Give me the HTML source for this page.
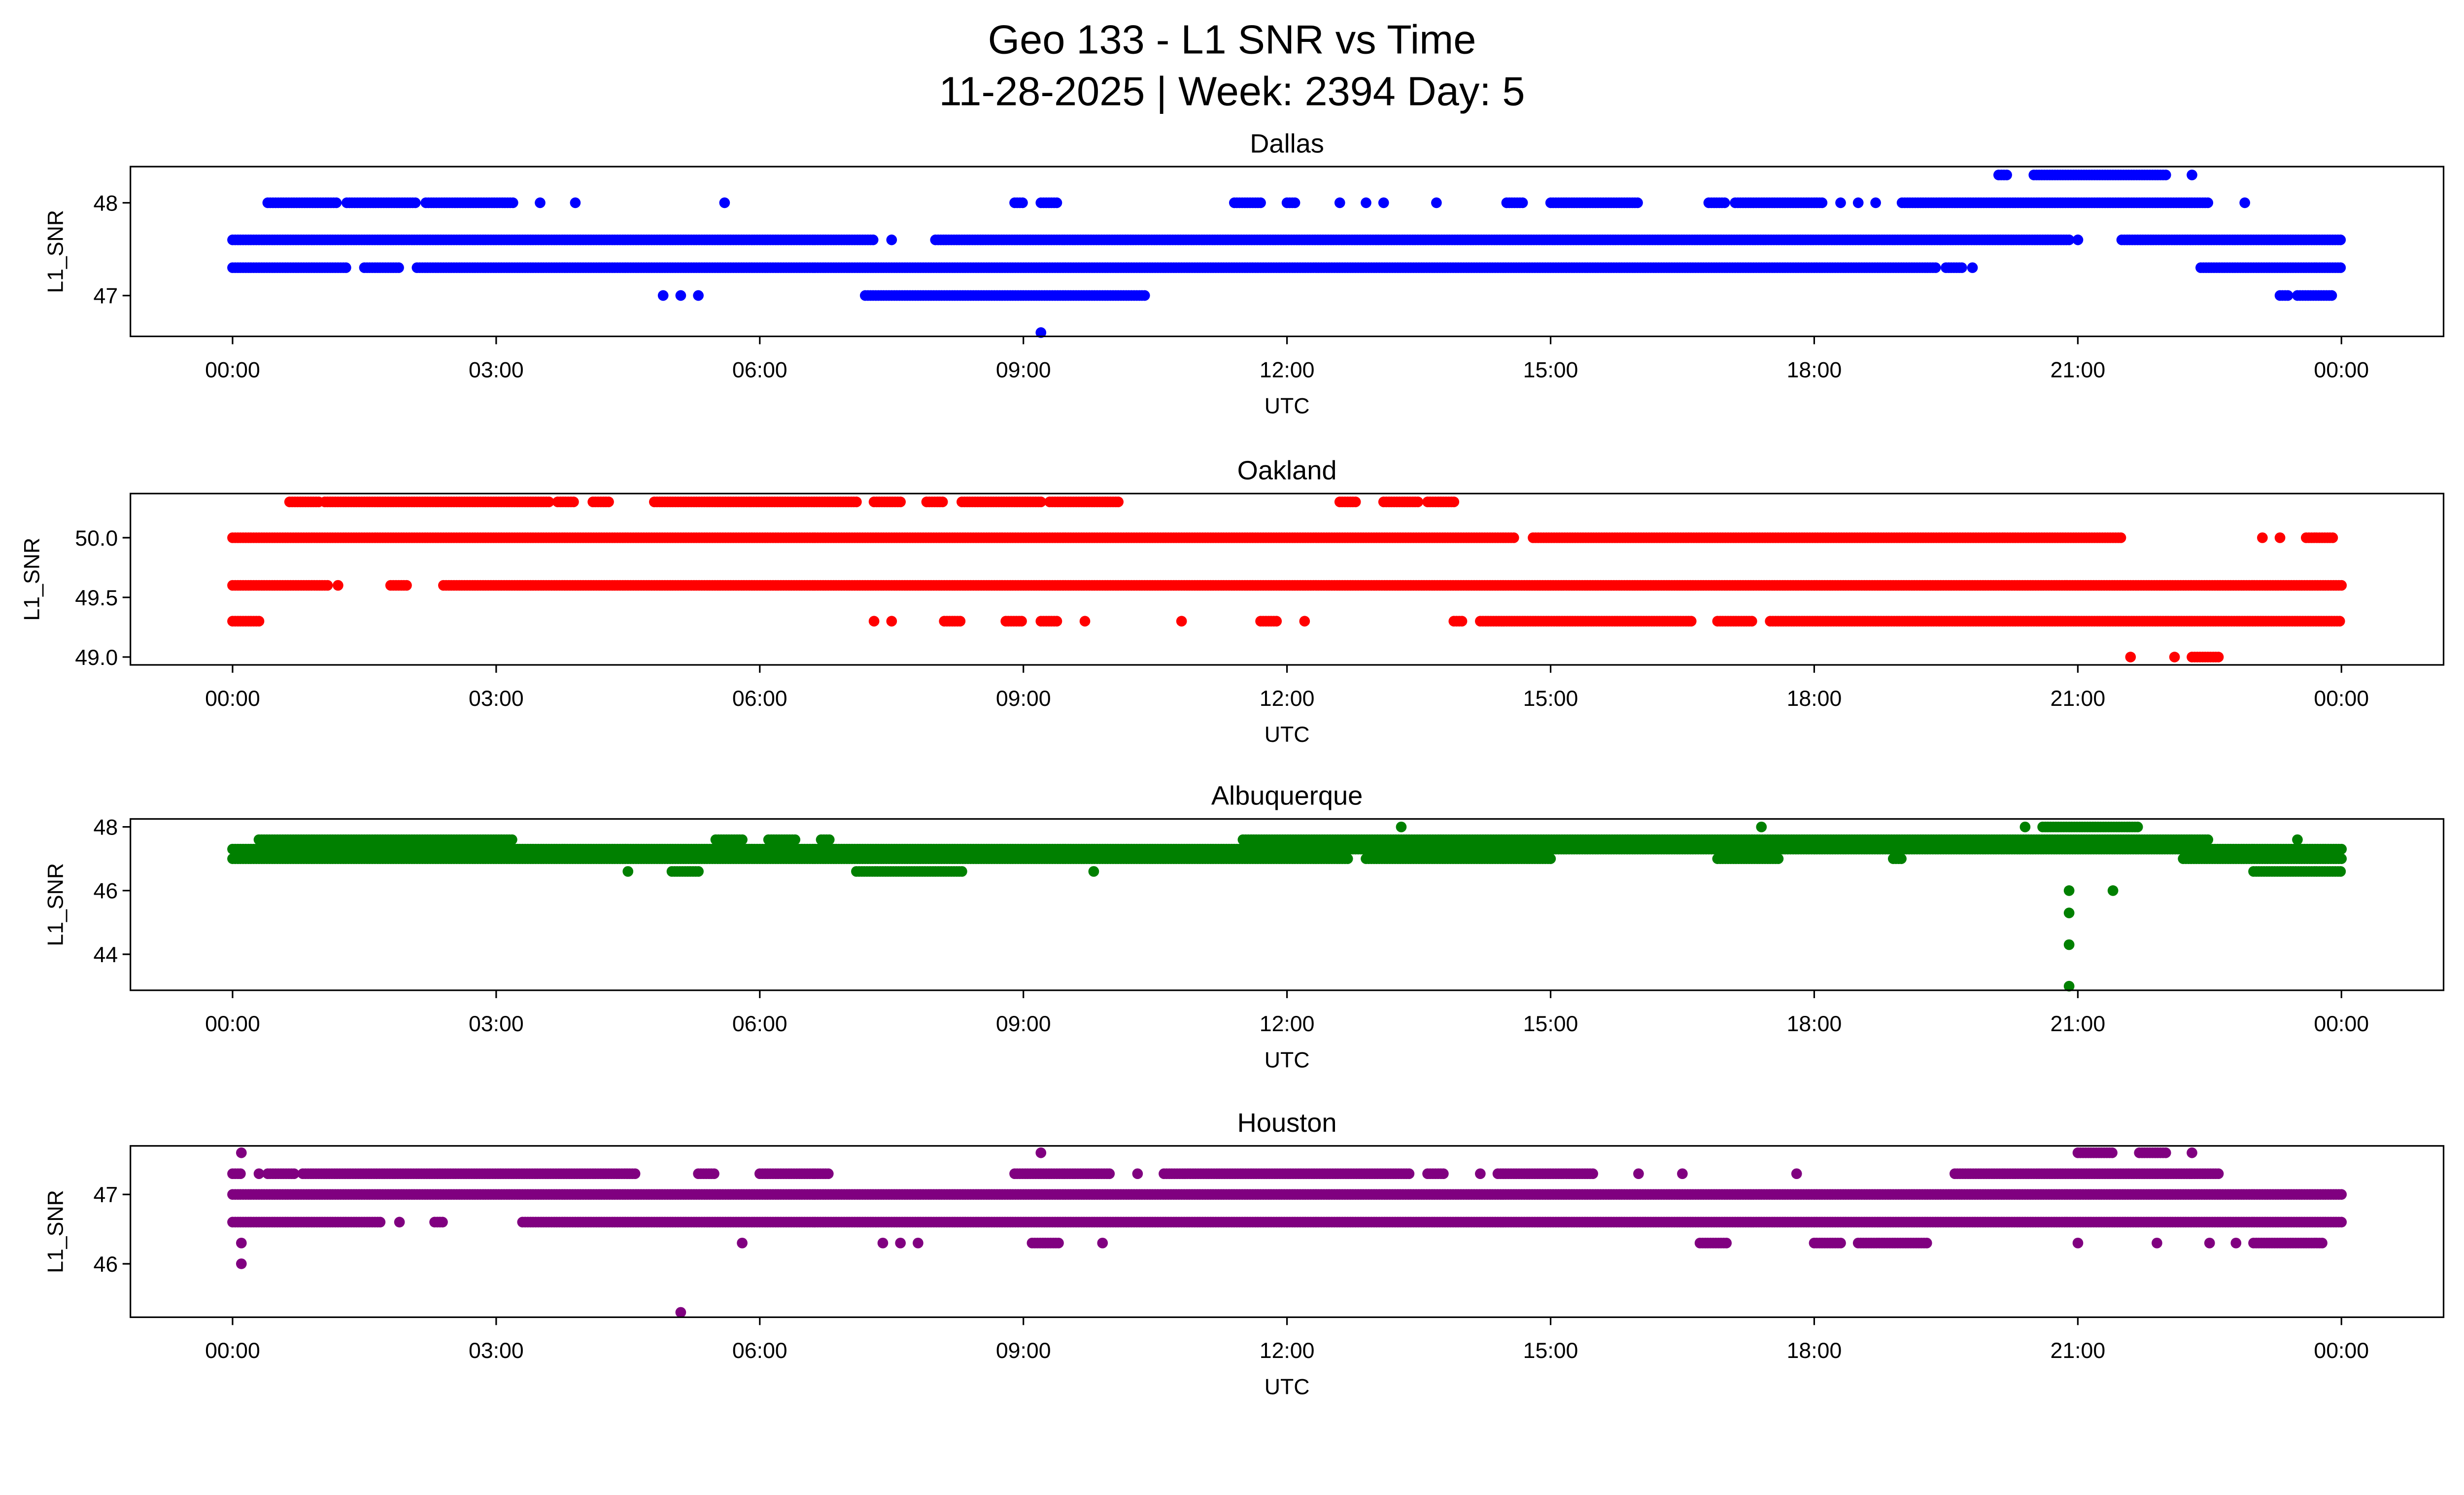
<!DOCTYPE html>
<html><head><meta charset="utf-8"><style>html,body{margin:0;padding:0;background:#fff;overflow:hidden}svg{display:block;position:absolute;left:0;top:0;width:100vw;height:calc(100vw * 0.574649)}text{font-family:"Liberation Sans","DejaVu Sans",sans-serif;fill:#000}</style></head>
<body>
<svg id="chart" xmlns="http://www.w3.org/2000/svg" viewBox="0 0 1568 901" preserveAspectRatio="none">
<rect width="1568" height="901" fill="#fff"/>
<text x="784" y="34" font-size="26" text-anchor="middle">Geo 133 - L1 SNR vs Time</text>
<text x="784" y="67" font-size="26" text-anchor="middle">11-28-2025 | Week: 2394 Day: 5</text>
<g id="plots"></g>
</svg>
<script>
// Runs are [startHour, endHour] for each SNR level
const xTickLabels = ["00:00","03:00","06:00","09:00","12:00","15:00","18:00","21:00","00:00"];
const xTickHours = [0,3,6,9,12,15,18,21,24];
const stations = ["Dallas","Oakland","Albuquerque","Houston"];
const colors = ["#0000ff","#ff0000","#008000","#800080"];
const yTicksDallas = [47,48];
const yTicksOakland = [49.0,49.5,50.0];
const yTicksAlb = [44,46,48];
const yTicksHouston = [46,47];
const dallasLevels = [47.3,47.6,48.0,48.3,47.0,46.6];
const dallasRuns = [
 [[0,1.3],[1.5,1.9],[2.1,19.4],[19.5,19.7],[19.8,19.8],[22.4,24]],
 [[0,7.3],[7.5,7.5],[8.0,20.9],[21.0,21.0],[21.5,24]],
 [[0.4,1.2],[1.3,2.1],[2.2,3.2],[3.5,3.5],[3.9,3.9],[5.6,5.6],[8.9,9.0],[9.2,9.4],[11.4,11.7],[12.0,12.1],[12.6,12.6],[12.9,12.9],[13.1,13.1],[13.7,13.7],[14.5,14.7],[15.0,16.0],[16.8,17.0],[17.1,18.1],[18.3,18.3],[18.5,18.5],[18.7,18.7],[19.0,22.5],[22.9,22.9]],
 [[20.1,20.2],[20.5,22.0],[22.3,22.3]],
 [[4.9,4.9],[5.1,5.1],[5.3,5.3],[7.2,10.4],[23.3,23.4],[23.5,23.9]],
 [[9.2,9.2]]
];
const oakLevels = [50.3,50.0,49.6,49.3,49.0];
const oakRuns = [
 [[0.65,1.0],[1.05,3.6],[3.7,3.9],[4.1,4.3],[4.8,5.9],[5.9,7.1],[7.3,7.6],[7.9,8.1],[8.3,9.2],[9.3,10.1],[12.6,12.8],[13.1,13.5],[13.6,13.9]],
 [[0,14.6],[14.8,21.5],[23.1,23.1],[23.3,23.3],[23.6,23.9]],
 [[0,1.1],[1.2,1.2],[1.8,2.0],[2.4,24]],
 [[0,0.3],[7.3,7.3],[7.5,7.5],[8.1,8.3],[8.8,9.0],[9.2,9.4],[9.7,9.7],[10.8,10.8],[11.7,11.9],[12.2,12.2],[13.9,14.0],[14.2,16.6],[16.9,17.3],[17.5,24]],
 [[21.6,21.6],[22.1,22.1],[22.3,22.6]]
];
const albLevels = [47.3,47.0,47.6,48.0,46.6,46.0,45.3,44.3,43.0];
const albRuns = [
 [[0,24]],
 [[0,12.7],[12.9,15.0],[16.9,17.6],[18.9,19.0],[22.2,24]],
 [[0.3,3.2],[5.5,5.8],[6.1,6.4],[6.7,6.8],[11.5,22.5],[23.5,23.5]],
 [[13.3,13.3],[17.4,17.4],[20.4,20.4],[20.6,21.7]],
 [[4.5,4.5],[5.0,5.3],[7.1,8.3],[9.8,9.8],[23.0,24]],
 [[20.9,20.9],[21.4,21.4]],
 [[20.9,20.9]],
 [[20.9,20.9]],
 [[20.9,20.9]]
];
const houLevels = [47.0,46.6,47.3,47.6,46.3,46.0,45.3];
const houRuns = [
 [[0,24]],
 [[0,1.7],[1.9,1.9],[2.3,2.4],[3.3,24]],
 [[0,0.1],[0.3,0.3],[0.4,0.7],[0.8,4.6],[5.3,5.5],[6.0,6.8],[8.9,10.0],[10.3,10.3],[10.6,13.4],[13.6,13.8],[14.2,14.2],[14.4,15.5],[16.0,16.0],[16.5,16.5],[17.8,17.8],[19.6,22.6]],
 [[0.1,0.1],[9.2,9.2],[21.0,21.4],[21.7,22.0],[22.3,22.3]],
 [[0.1,0.1],[5.8,5.8],[7.4,7.4],[7.6,7.6],[7.8,7.8],[9.1,9.4],[9.9,9.9],[16.7,17.0],[18.0,18.3],[18.5,19.3],[21.0,21.0],[21.9,21.9],[22.5,22.5],[22.8,22.8],[23.0,23.8]],
 [[0.1,0.1]],
 [[5.1,5.1]]
];
const panelLevels = [dallasLevels,oakLevels,albLevels,houLevels];
const panelRuns = [dallasRuns,oakRuns,albRuns,houRuns];
const panelYTicks = [yTicksDallas,yTicksOakland,yTicksAlb,yTicksHouston];
const yDomains = [[46.56,48.39],[48.934,50.37],[42.87,48.25],[45.23,47.70]];

const NS="http://www.w3.org/2000/svg";
const root=document.getElementById('plots');
const boxes=[[106,214],[314,423],[521,630],[729,838]];
const X0=83,X1=1555;
function xScale(h){return 148+(1490-148)*h/24;}
function mk(tag,attrs,parent){const e=document.createElementNS(NS,tag);for(const k in attrs)e.setAttribute(k,attrs[k]);parent.appendChild(e);return e;}
for(let p=0;p<4;p++){
 const [top,bot]=boxes[p];const [d0,d1]=yDomains[p];
 const yScale=v=>bot-(v-d0)/(d1-d0)*(bot-top);
 const g=mk('g',{},root);
 
 
 const t=mk('text',{x:(X0+X1)/2,y:top-9,'font-size':17,'text-anchor':'middle'},g);t.textContent=stations[p];
 
 
 const pts=mk('g',{fill:colors[p]},g);
 
 
 const levels=panelLevels[p],runs=panelRuns[p];
 for(let i=0;i<levels.length;i++){
  const y=yScale(levels[i]);
  for(const r of runs[i]){
   for(let h=r[0];h<=r[1]+1e-9;h+=0.03){
    const c=mk('circle',{cx:xScale(h).toFixed(1),cy:y.toFixed(1),r:3.4},pts);
    
    
   }
  }
 }
 const frame=mk('rect',{x:X0,y:top,width:X1-X0,height:bot-top,fill:'none',stroke:'#000','stroke-width':1},g);
 
 
 for(let i=0;i<xTickHours.length;i++){
  const x=xScale(xTickHours[i]);
  mk('line',{x1:x,x2:x,y1:bot,y2:bot+5,stroke:'#000'},g);
  const tl=mk('text',{x:x,y:bot+26,'font-size':14,'text-anchor':'middle'},g);tl.textContent=xTickLabels[i];
  
  
 }
 const xl=mk('text',{x:(X0+X1)/2,y:bot+49,'font-size':14,'text-anchor':'middle'},g);xl.textContent='UTC';
 
 
 for(const v of panelYTicks[p]){
  const y=yScale(v);
  mk('line',{x1:X0-5,x2:X0,y1:y,y2:y,stroke:'#000'},g);
  const yt=mk('text',{x:X0-8,y:y+5,'font-size':14,'text-anchor':'end'},g);
  yt.textContent=(p===1)?v.toFixed(1):String(v);
  
  
 }
 const yc=(top+bot)/2;
 const yl=mk('text',{x:0,y:0,'font-size':14,'text-anchor':'middle',transform:`translate(${p===1?25:40},${yc}) rotate(-90)`},g);yl.textContent='L1_SNR';
 
 
}
</script>
</body></html>
